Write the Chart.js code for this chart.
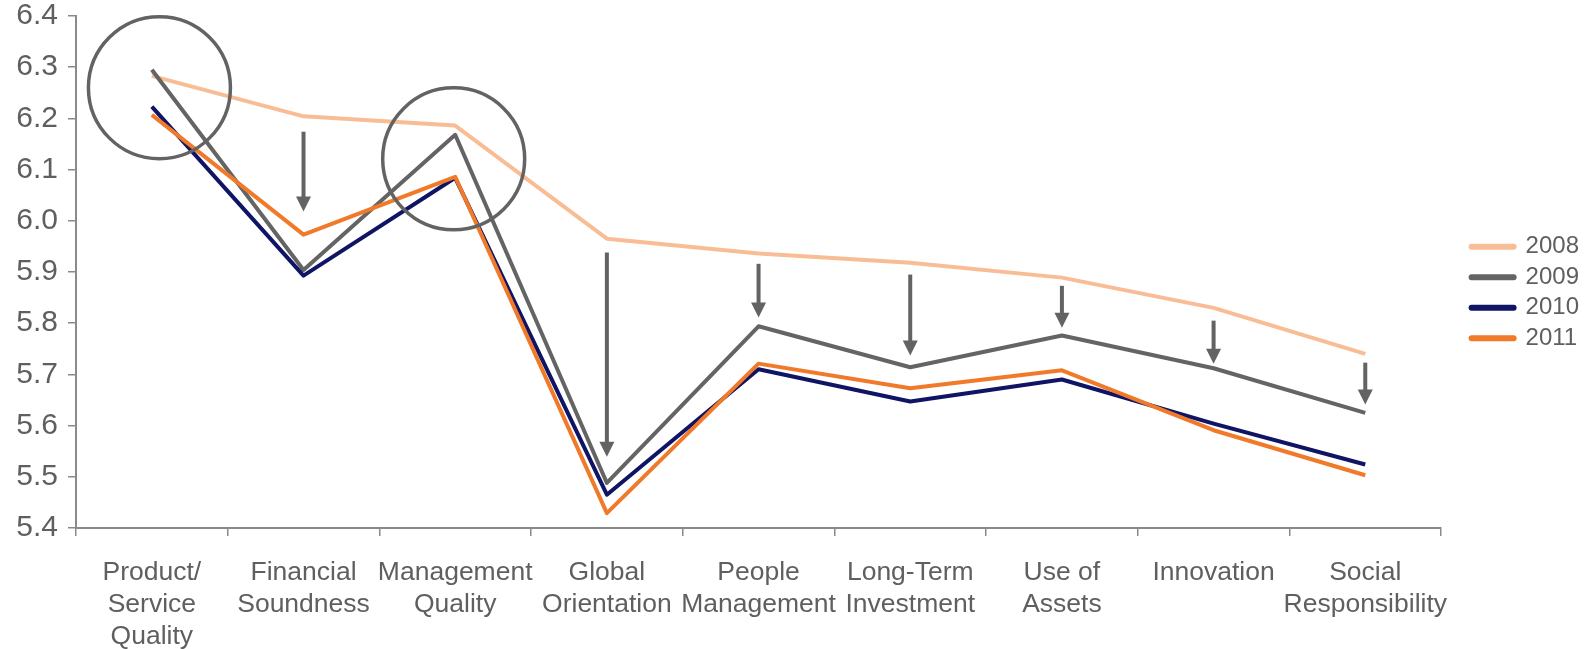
<!DOCTYPE html>
<html>
<head>
<meta charset="utf-8">
<title>Attribute scores 2008-2011</title>
<script src="https://cdn.jsdelivr.net/npm/chart.js@4.4.1/dist/chart.umd.min.js"></script>
<style>
  html, body { margin: 0; padding: 0; background: #fff; }
  #wrap { width: 1593px; height: 649px; position: relative; }
</style>
</head>
<body>
<div id="wrap"><canvas id="scores-chart"></canvas></div>
<script>
// Attribute names, wrapped the way the axis shows them
const categories = [
  ['Product/', 'Service', 'Quality'],
  ['Financial', 'Soundness'],
  ['Management', 'Quality'],
  ['Global', 'Orientation'],
  ['People', 'Management'],
  ['Long-Term', 'Investment'],
  ['Use of', 'Assets'],
  'Innovation',
  ['Social', 'Responsibility']
];

const years = ['2008', '2009', '2010', '2011'];
const scores2008 = [6.283, 6.204, 6.186, 5.965, 5.936, 5.918, 5.889, 5.830, 5.740];
const scores2009 = [6.295, 5.904, 6.168, 5.488, 5.794, 5.714, 5.776, 5.712, 5.625];
const scores2010 = [6.223, 5.893, 6.084, 5.465, 5.710, 5.647, 5.690, 5.604, 5.524];
const scores2011 = [6.207, 5.973, 6.086, 5.429, 5.721, 5.673, 5.708, 5.591, 5.503];

// Value axis
const yMin = 5.4;
const yMax = 6.4;
const yStep = 0.1;

// Drop arrows: [category index, from score, to score]
const arrows = [
  [1, 6.174, 6.018],
  [3, 5.938, 5.539],
  [4, 5.916, 5.811],
  [5, 5.895, 5.737],
  [6, 5.873, 5.791],
  [7, 5.805, 5.721],
  [8, 5.723, 5.641]
];

// Highlight rings: [category position, score at centre]
const rings = [
  [0.05, 6.26],
  [1.99, 6.121]
];

const colors = ['#F9BD96', '#646464', '#0F1464', '#F07A2A'];
const ink = '#5f5f5f';
const axisGray = '#8a8a8a';

Chart.defaults.font.family = '"Liberation Sans", Arial, sans-serif';
Chart.defaults.color = ink;

function makeDataset(label, data, color, order) {
  return {
    label,
    data,
    borderColor: color,
    backgroundColor: color,
    borderWidth: 4,
    pointRadius: 0,
    tension: 0,
    borderJoinStyle: 'round',
    order
  };
}

// Rings and arrows drawn on top of the lines
const markers = {
  id: 'markers',
  afterDatasetsDraw(chart) {
    const { ctx, scales: { x, y } } = chart;
    ctx.save();
    ctx.strokeStyle = '#636363';
    ctx.fillStyle = '#636363';

    ctx.lineWidth = 3.5;
    rings.forEach(([pos, value]) => {
      ctx.beginPath();
      ctx.arc(x.getPixelForValue(pos), y.getPixelForValue(value), 71, 0, Math.PI * 2);
      ctx.stroke();
    });

    ctx.lineWidth = 4;
    arrows.forEach(([pos, from, to]) => {
      const px = x.getPixelForValue(pos);
      const top = y.getPixelForValue(from);
      const tip = y.getPixelForValue(to);
      ctx.beginPath();
      ctx.moveTo(px, top);
      ctx.lineTo(px, tip - 12);
      ctx.stroke();
      ctx.beginPath();
      ctx.moveTo(px - 7.5, tip - 15);
      ctx.lineTo(px + 7.5, tip - 15);
      ctx.lineTo(px, tip);
      ctx.closePath();
      ctx.fill();
    });
    ctx.restore();
  }
};

// Leave a gap between the plot and the legend, and lift the legend a bit
const legendGap = {
  id: 'legendGap',
  beforeInit(chart) {
    const fit = chart.legend.fit;
    chart.legend.fit = function () {
      fit.call(this);
      this.width += 18;
    };
  },
  afterLayout(chart) {
    chart.legend.left += 24;
    chart.legend.top -= 64;
  }
};

function initChart() {
  const ctx = document.getElementById('scores-chart');
  new Chart(ctx, {
    type: 'line',
    data: {
      labels: categories,
      datasets: [
        makeDataset(years[0], scores2008, colors[0], 4),
        makeDataset(years[1], scores2009, colors[1], 3),
        makeDataset(years[2], scores2010, colors[2], 2),
        makeDataset(years[3], scores2011, colors[3], 1)
      ]
    },
    options: {
      responsive: true,
      maintainAspectRatio: false,
      animation: false,
      layout: { padding: { top: 0, right: 10, bottom: 0, left: 0 } },
      scales: {
        x: {
          offset: true,
          grid: { offset: true, drawOnChartArea: false, tickLength: 8, color: axisGray, lineWidth: 1.5 },
          border: { color: axisGray, width: 2 },
          ticks: { autoSkip: false, maxRotation: 0, minRotation: 0, padding: 21, color: ink, font: { size: 26.5, lineHeight: 1.2 } },
          afterFit(scale) { scale.height = 121; }
        },
        y: {
          min: yMin,
          max: yMax,
          grid: { drawOnChartArea: false, tickLength: 8, color: axisGray, lineWidth: 1.5 },
          border: { color: axisGray, width: 2 },
          ticks: { stepSize: yStep, padding: 10, color: ink, font: { size: 30 }, callback: v => v.toFixed(1) },
          afterFit(scale) {
            scale.width = 76;
            scale.paddingTop = 16;
          }
        }
      },
      plugins: {
        tooltip: { enabled: false },
        legend: {
          position: 'right',
          labels: {
            usePointStyle: true,
            pointStyle: 'line',
            pointStyleWidth: 42,
            padding: 6.5,
            color: ink,
            font: { size: 24 },
            sort: (a, b) => a.datasetIndex - b.datasetIndex,
            generateLabels(chart) {
              return Chart.defaults.plugins.legend.labels.generateLabels(chart)
                .map(item => ({ ...item, lineWidth: 6, lineCap: 'round' }));
            }
          }
        }
      }
    },
    plugins: [markers, legendGap]
  });
}

document.addEventListener('DOMContentLoaded', initChart);
</script>
</body>
</html>
